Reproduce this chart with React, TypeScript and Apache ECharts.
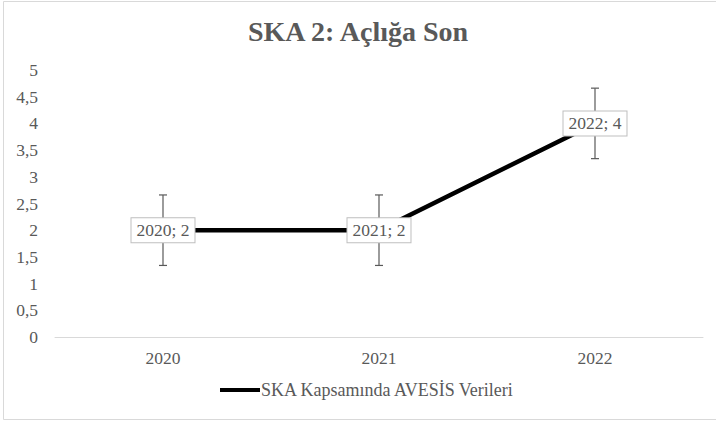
import React, { useEffect, useRef } from "react";
import * as echarts from "echarts";

const categories = ["2020", "2021", "2022"];
const values = [2, 2, 4];
const errorAmount = [0.66, 0.66, 0.66];
const yTicks = { min: 0, max: 5, interval: 0.5 };
const seriesName = "SKA Kapsamında AVESİS Verileri";
const titleText = "SKA 2: Açlığa Son";

const FONT = "Times New Roman";
const GRAY = "#595959";

export default function App() {
  const ref = useRef<HTMLDivElement>(null);
  useEffect(() => {
    if (!ref.current) return;
    const chart = echarts.init(ref.current, null, { renderer: "svg" });
    const errData = categories.map((c, i) => [i, values[i] - errorAmount[i], values[i] + errorAmount[i]]);
    chart.setOption({
      animation: false,
      backgroundColor: "#ffffff",
      textStyle: { fontFamily: FONT, fontSize: 17.5 },
      title: {
        text: titleText,
        left: "center",
        top: 12,
        textStyle: { fontFamily: FONT, fontSize: 28, fontWeight: "bold", color: GRAY },
      },
      graphic: [
        {
          type: "rect",
          shape: { x: 3.5, y: 1.5, width: 720, height: 418 },
          style: { fill: "none", stroke: "#d9d9d9", lineWidth: 1 },
          silent: true,
        },
      ],
      grid: { left: 55, right: 13, top: 70, bottom: 85, containLabel: false },
      legend: {
        bottom: 18,
        left: 215,
        data: [{ name: seriesName, icon: "rect" }],
        itemWidth: 40,
        itemHeight: 4,
        itemGap: 10,
        textStyle: { fontFamily: FONT, fontSize: 18, color: GRAY, padding: [0, 0, 0, -4] },
        itemStyle: { color: "#000000" },
      },
      xAxis: {
        type: "category",
        data: categories,
        boundaryGap: true,
        axisLine: { lineStyle: { color: "#d9d9d9", width: 1 } },
        axisTick: { show: false },
        axisLabel: { fontFamily: FONT, fontSize: 17.5, color: GRAY, margin: 12 },
      },
      yAxis: {
        type: "value",
        min: yTicks.min,
        max: yTicks.max,
        interval: yTicks.interval,
        splitLine: { show: false },
        axisLine: { show: false },
        axisTick: { show: false },
        axisLabel: {
          fontFamily: FONT,
          fontSize: 17.5,
          color: GRAY,
          margin: 17,
          formatter: (v: number) => String(v).replace(".", ","),
        },
      },
      series: [
        {
          type: "custom",
          name: "err",
          z: 1,
          silent: true,
          data: errData,
          renderItem: (params: any, api: any) => {
            const x = api.value(0);
            const lo = api.coord([x, api.value(1)]);
            const hi = api.coord([x, api.value(2)]);
            const cap = 4;
            const style = { stroke: GRAY, lineWidth: 1.2 };
            return {
              type: "group",
              children: [
                { type: "line", shape: { x1: hi[0], y1: hi[1], x2: lo[0], y2: lo[1] }, style },
                { type: "line", shape: { x1: hi[0] - cap, y1: hi[1], x2: hi[0] + cap, y2: hi[1] }, style },
                { type: "line", shape: { x1: lo[0] - cap, y1: lo[1], x2: lo[0] + cap, y2: lo[1] }, style },
              ],
            };
          },
        },
        {
          type: "line",
          name: seriesName,
          z: 2,
          data: values,
          symbol: "circle",
          symbolSize: 1,
          showSymbol: true,
          itemStyle: { color: "#000000" },
          lineStyle: { color: "#000000", width: 4.5 },
          label: {
            show: true,
            position: "inside",
            formatter: (p: any) => `${p.name}; ${p.value}`,
            fontFamily: FONT,
            fontSize: 17.5,
            lineHeight: 19,
            color: GRAY,
            backgroundColor: "#ffffff",
            borderColor: "#bfbfbf",
            borderWidth: 1,
            padding: [3, 5, 2, 5],
          },
        },
      ],
    });
    return () => chart.dispose();
  }, []);
  return (
    <div
      ref={ref}
      style={{ position: "fixed", left: 0, top: 0, width: 716, height: 422, background: "#fff" }}
    />
  );
}
